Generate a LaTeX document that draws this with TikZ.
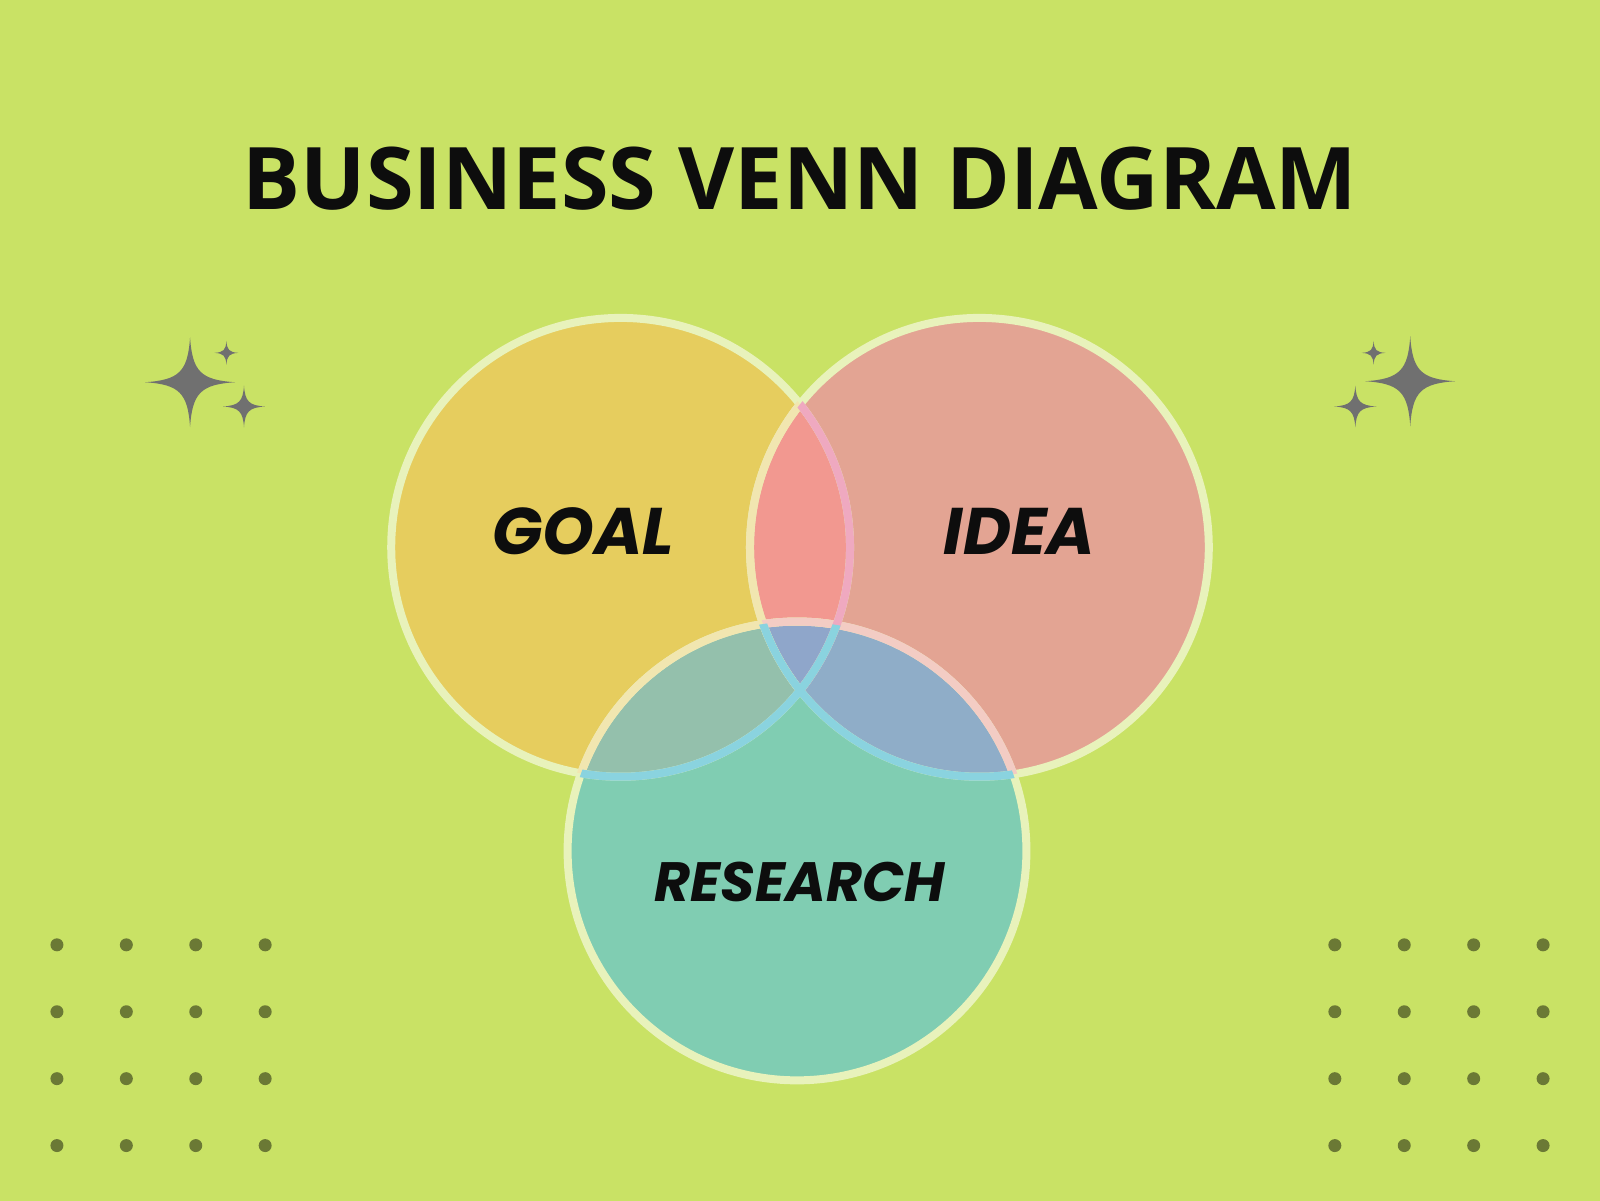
\documentclass[tikz,border=0pt]{standalone}
\usepackage{fontspec}
\newfontfamily\titlefont{Open Sans}
\newfontfamily\labfont{Poppins}
\definecolor{bg}{HTML}{C9E265}
\definecolor{goalc}{HTML}{E6CD5E}
\definecolor{ideac}{HTML}{E3A493}
\definecolor{resc}{HTML}{80CDB2}
\definecolor{gic}{HTML}{F29890}
\definecolor{grc}{HTML}{94C0AC}
\definecolor{irc}{HTML}{8FADC8}
\definecolor{girc}{HTML}{8FA6CA}
\definecolor{ringc}{HTML}{E8F2BB}
\definecolor{ringcream}{HTML}{F1E6B0}
\definecolor{ringpink}{HTML}{EFA9C0}
\definecolor{ringrose}{HTML}{F3CCC4}
\definecolor{ringcyan}{HTML}{8AD3DF}
\definecolor{dotc}{HTML}{6B7935}
\definecolor{sparkc}{HTML}{707070}
\tikzset{
  ring/.style={line width=8pt},
  dotmark/.style={fill=dotc},
  sparkle/.style={fill=sparkc},
  lab/.style={font=\labfont\bfseries\itshape, text=black!95, inner sep=0pt},
}
\def\R{229.7}
\newcommand{\spark}[3]{%
  \fill[sparkle] (#1+0,#2-#3) .. controls (#1+0.05*#3,#2-0.24*#3) and (#1+0.24*#3,#2-0.05*#3) .. (#1+#3,#2)
    .. controls (#1+0.24*#3,#2+0.05*#3) and (#1+0.05*#3,#2+0.24*#3) .. (#1,#2+#3)
    .. controls (#1-0.05*#3,#2+0.24*#3) and (#1-0.24*#3,#2+0.05*#3) .. (#1-#3,#2)
    .. controls (#1-0.24*#3,#2-0.05*#3) and (#1-0.05*#3,#2-0.24*#3) .. cycle;}
\begin{document}
\begin{tikzpicture}[x=1pt,y=-1pt]
\fill[bg] (-1,-1) rectangle (1601,1201);
\useasboundingbox (0,0) rectangle (1600,1200);
\coordinate (G) at (620.4,547);
\coordinate (I) at (979.6,547);
\coordinate (S) at (797,851);
% fills
\fill[goalc] (G) circle (\R);
\fill[ideac] (I) circle (\R);
\fill[resc] (S) circle (\R);
\begin{scope}
  \clip (G) circle (\R);
  \fill[gic] (I) circle (\R);
  \fill[grc] (S) circle (\R);
  \clip (I) circle (\R);
  \fill[girc] (S) circle (\R);
\end{scope}
\begin{scope}
  \clip (I) circle (\R);
  \clip (S) circle (\R);
  \begin{scope}[even odd rule]
    \clip (G) circle (\R) (0,0) rectangle (1600,1200);
    \fill[irc] (S) circle (\R);
  \end{scope}
\end{scope}
% rings base
\draw[ring, ringc] (G) circle (\R);
\draw[ring, ringc] (I) circle (\R);
\draw[ring, ringc] (S) circle (\R);
% tinted ring segments
\begin{scope}
  \clip (G) circle (\R);
  \draw[ring, ringcream] (I) circle (\R);
  \draw[ring, ringcream] (S) circle (\R);
\end{scope}
\begin{scope}
  \clip (I) circle (\R);
  \draw[ring, ringrose] (S) circle (\R);
  \draw[ring, ringpink] (G) circle (\R);
\end{scope}
\begin{scope}
  \clip (S) circle (\R);
  \draw[ring, ringcyan] (G) circle (\R);
  \draw[ring, ringcyan] (I) circle (\R);
\end{scope}
% title and labels
\node[font=\titlefont\bfseries, text=black!95, inner sep=0pt, anchor=base] (title) at (800,209) {\fontsize{86.5}{86.5}\selectfont BUSINESS VENN DIAGRAM};
\node[lab, anchor=base] (goal) at (583,554) {\fontsize{66}{66}\selectfont GOAL};
\node[lab, anchor=base] (idea) at (1020,554) {\fontsize{66}{66}\selectfont IDEA};
\node[lab, anchor=base] (research) at (800,902) {\fontsize{55.5}{55.5}\selectfont RESEARCH};
% sparkles
\spark{189.3}{381.7}{45}
\spark{225.7}{352.3}{12}
\spark{243.3}{406}{21}
\spark{1411}{380.7}{45}
\spark{1374.3}{352.3}{12}
\spark{1356}{406}{21}
% dots
\foreach \x in {56,125.5,195,264.5} \foreach \y in {945,1012,1079,1146} \fill[dotmark] (\x,\y) circle (6.5);
\foreach \x in {1335.5,1405,1474.5,1544} \foreach \y in {945,1012,1079,1146} \fill[dotmark] (\x,\y) circle (6.5);
\end{tikzpicture}
\end{document}
